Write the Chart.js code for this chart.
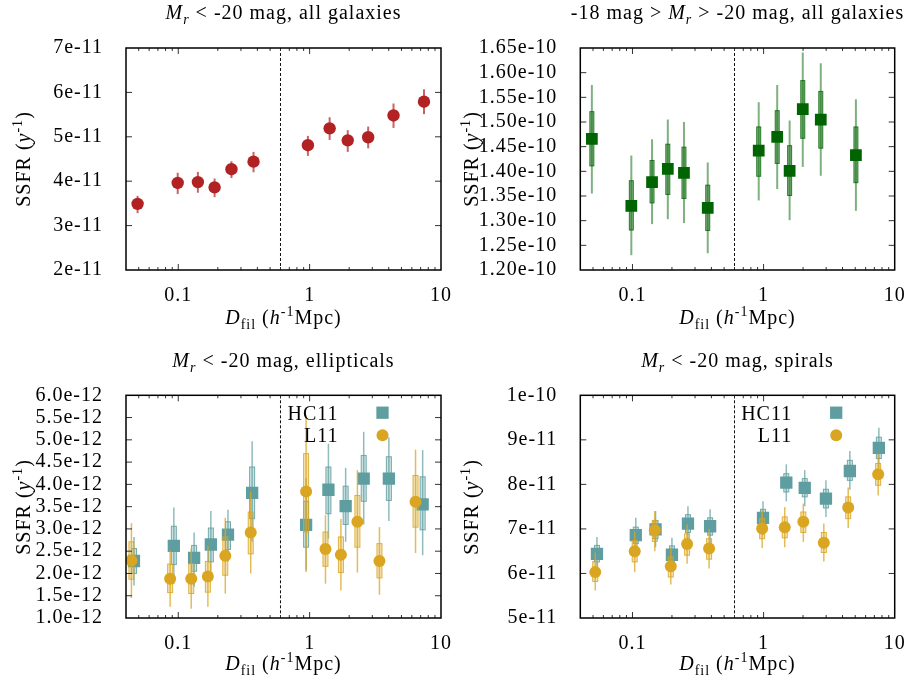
<!DOCTYPE html>
<html>
<head>
<meta charset="utf-8">
<script src="https://cdn.jsdelivr.net/npm/chart.js@4.4.1/dist/chart.umd.min.js"></script>
<style>
body { margin: 0; background: #fff; }
#wrap { position: relative; width: 914px; height: 684px; font-family: "Liberation Serif", serif; overflow: hidden; }
#wrap canvas { position: absolute; }
.lbl { position: absolute; white-space: nowrap; font-size: 20px; line-height: 20px; letter-spacing: 1px; color: #000; }
.ttl, .xl { transform: translateX(-50%); }
.yl { transform: translate(-50%, -50%) rotate(-90deg); }
.sb { font-size: 14px; position: relative; top: 5px; }
.sp { font-size: 14px; position: relative; top: -8px; }
</style>
</head>
<body>
<div id="wrap">
  <canvas id="c1" width="457" height="342" style="left:0;top:0"></canvas>
  <canvas id="c2" width="457" height="342" style="left:457px;top:0"></canvas>
  <canvas id="c3" width="457" height="342" style="left:0;top:342px"></canvas>
  <canvas id="c4" width="457" height="342" style="left:457px;top:342px"></canvas>

  <div class="lbl ttl" style="left:283.5px;top:2.3px"><i>M<span class="sb">r</span></i> &lt; -20 mag, all galaxies</div>
  <div class="lbl ttl" style="left:737.5px;top:2.3px">-18 mag &gt; <i>M<span class="sb">r</span></i> &gt; -20 mag, all galaxies</div>
  <div class="lbl ttl" style="left:283.5px;top:350.3px"><i>M<span class="sb">r</span></i> &lt; -20 mag, ellipticals</div>
  <div class="lbl ttl" style="left:737.5px;top:350.3px"><i>M<span class="sb">r</span></i> &lt; -20 mag, spirals</div>

  <div class="lbl xl" style="left:283.5px;top:306.8px"><i>D</i><span class="sb">fil</span> (<i>h</i><span class="sp">-1</span>Mpc)</div>
  <div class="lbl xl" style="left:737.5px;top:306.8px"><i>D</i><span class="sb">fil</span> (<i>h</i><span class="sp">-1</span>Mpc)</div>
  <div class="lbl xl" style="left:283.5px;top:653.3px"><i>D</i><span class="sb">fil</span> (<i>h</i><span class="sp">-1</span>Mpc)</div>
  <div class="lbl xl" style="left:737.5px;top:653.3px"><i>D</i><span class="sb">fil</span> (<i>h</i><span class="sp">-1</span>Mpc)</div>

  <div class="lbl yl" style="left:24px;top:159px">SSFR (<i>y</i><span class="sp">-1</span>)</div>
  <div class="lbl yl" style="left:472px;top:159px">SSFR (<i>y</i><span class="sp">-1</span>)</div>
  <div class="lbl yl" style="left:24px;top:506.7px">SSFR (<i>y</i><span class="sp">-1</span>)</div>
  <div class="lbl yl" style="left:472px;top:506.7px">SSFR (<i>y</i><span class="sp">-1</span>)</div>
</div>
<script>
// x axis (shared by all panels)
const X_MIN = 0.04, X_MAX = 10;
const X_TICK_VALUES = [0.1, 1, 10];
const X_TICK_LABELS = ['0.1', '1', '10'];
const DASH_X = 0.6;

// panel 1: Mr < -20, all galaxies (units of 1e-11)
const UNIT_1 = 1e-11;
const X_1 = [0.049, 0.099, 0.141, 0.189, 0.254, 0.374, 0.97, 1.42, 1.95, 2.79, 4.35, 7.42];
const Y_1 = [3.49, 3.96, 3.98, 3.86, 4.27, 4.44, 4.81, 5.19, 4.92, 4.99, 5.48, 5.79];
const LO_1 = [3.28, 3.71, 3.74, 3.64, 4.07, 4.20, 4.57, 4.93, 4.66, 4.74, 5.20, 5.51];
const HI_1 = [3.67, 4.19, 4.21, 4.06, 4.45, 4.66, 5.02, 5.44, 5.15, 5.23, 5.75, 6.07];
const Y_TICKS_1 = [2, 3, 4, 5, 6, 7];
const Y_LABELS_1 = ['2e-11', '3e-11', '4e-11', '5e-11', '6e-11', '7e-11'];

// panel 2: -18 > Mr > -20, all galaxies (units of 1e-10)
const UNIT_2 = 1e-10;
const X_2 = [0.049, 0.098, 0.141, 0.186, 0.247, 0.375, 0.918, 1.27, 1.58, 1.99, 2.73, 5.06];
const Y_2 = [1.466, 1.330, 1.378, 1.405, 1.397, 1.326, 1.442, 1.470, 1.401, 1.526, 1.505, 1.433];
const IN_LO_2 = [1.411, 1.281, 1.336, 1.353, 1.345, 1.280, 1.390, 1.416, 1.351, 1.467, 1.447, 1.377];
const IN_HI_2 = [1.521, 1.381, 1.422, 1.455, 1.449, 1.372, 1.490, 1.523, 1.452, 1.584, 1.562, 1.490];
const OUT_LO_2 = [1.355, 1.230, 1.293, 1.303, 1.295, 1.234, 1.341, 1.364, 1.301, 1.409, 1.391, 1.320];
const OUT_HI_2 = [1.575, 1.432, 1.465, 1.505, 1.500, 1.418, 1.540, 1.575, 1.503, 1.641, 1.619, 1.546];
const Y_TICKS_2 = [1.20, 1.25, 1.30, 1.35, 1.40, 1.45, 1.50, 1.55, 1.60, 1.65];
const Y_LABELS_2 = ['1.20e-10', '1.25e-10', '1.30e-10', '1.35e-10', '1.40e-10',
                    '1.45e-10', '1.50e-10', '1.55e-10', '1.60e-10', '1.65e-10'];

// panel 3: Mr < -20, ellipticals (units of 1e-12)
const UNIT_3 = 1e-12;
const HC_X_3 = [0.046, 0.0925, 0.132, 0.177, 0.239, 0.365, 0.94, 1.39, 1.88, 2.58, 4.01, 7.25];
const HC_Y_3 = [2.28, 2.62, 2.35, 2.65, 2.87, 3.81, 3.09, 3.88, 3.51, 4.13, 4.13, 3.55];
const HC_IN_LO_3 = [2.00, 2.20, 2.05, 2.26, 2.54, 3.23, 2.59, 3.34, 3.10, 3.62, 3.64, 2.98];
const HC_IN_HI_3 = [2.56, 3.06, 2.63, 3.02, 3.16, 4.39, 3.62, 4.39, 3.96, 4.65, 4.62, 4.17];
const HC_OUT_LO_3 = [1.73, 1.77, 1.70, 1.87, 2.27, 2.71, 2.07, 2.78, 2.71, 3.10, 3.18, 2.41];
const HC_OUT_HI_3 = [2.82, 3.48, 2.92, 3.40, 3.43, 4.97, 4.14, 4.91, 4.37, 5.18, 5.06, 4.77];
const L_X_3 = [0.044, 0.0867, 0.1255, 0.168, 0.228, 0.356, 0.94, 1.32, 1.73, 2.31, 3.40, 6.40];
const L_Y_3 = [2.29, 1.88, 1.88, 1.93, 2.40, 2.92, 3.84, 2.55, 2.42, 3.16, 2.28, 3.61];
const L_IN_LO_3 = [1.87, 1.57, 1.55, 1.58, 1.96, 2.44, 2.93, 2.16, 2.02, 2.59, 1.90, 3.04];
const L_IN_HI_3 = [2.71, 2.21, 2.22, 2.27, 2.82, 3.38, 4.69, 2.93, 2.82, 3.75, 2.67, 4.20];
const L_OUT_LO_3 = [1.45, 1.25, 1.21, 1.25, 1.55, 2.00, 2.03, 1.77, 1.62, 2.02, 1.52, 2.46];
const L_OUT_HI_3 = [3.13, 2.52, 2.56, 2.62, 3.25, 3.83, 5.55, 3.31, 3.22, 4.32, 3.04, 4.78];
const Y_TICKS_3 = [1.0, 1.5, 2.0, 2.5, 3.0, 3.5, 4.0, 4.5, 5.0, 5.5, 6.0];
const Y_LABELS_3 = ['1.0e-12', '1.5e-12', '2.0e-12', '2.5e-12', '3.0e-12', '3.5e-12',
                    '4.0e-12', '4.5e-12', '5.0e-12', '5.5e-12', '6.0e-12'];

// panel 4: Mr < -20, spirals (units of 1e-11)
const UNIT_4 = 1e-11;
const HC_X_4 = [0.0536, 0.106, 0.150, 0.200, 0.265, 0.391, 0.99, 1.49, 2.06, 2.99, 4.55, 7.57];
const HC_Y_4 = [6.44, 6.86, 6.99, 6.42, 7.12, 7.06, 7.25, 8.04, 7.92, 7.68, 8.30, 8.82];
const HC_IN_LO_4 = [6.26, 6.67, 6.78, 6.24, 6.92, 6.86, 7.04, 7.83, 7.72, 7.47, 8.09, 8.58];
const HC_IN_HI_4 = [6.63, 7.04, 7.19, 6.62, 7.32, 7.25, 7.44, 8.24, 8.13, 7.89, 8.54, 9.06];
const HC_OUT_LO_4 = [6.07, 6.44, 6.59, 6.03, 6.71, 6.67, 6.86, 7.62, 7.51, 7.27, 7.88, 8.37];
const HC_OUT_HI_4 = [6.82, 7.25, 7.40, 6.80, 7.51, 7.44, 7.62, 8.45, 8.32, 8.09, 8.75, 9.27];
const L_X_4 = [0.052, 0.104, 0.148, 0.196, 0.261, 0.384, 0.975, 1.45, 2.01, 2.88, 4.42, 7.48];
const L_Y_4 = [6.03, 6.50, 6.97, 6.16, 6.66, 6.56, 7.01, 7.04, 7.16, 6.69, 7.48, 8.23];
const L_IN_LO_4 = [5.82, 6.26, 6.72, 5.92, 6.41, 6.32, 6.78, 6.80, 6.92, 6.47, 7.23, 7.98];
const L_IN_HI_4 = [6.27, 6.74, 7.19, 6.37, 6.89, 6.78, 7.23, 7.27, 7.38, 6.92, 7.72, 8.47];
const L_OUT_LO_4 = [5.62, 6.03, 6.50, 5.75, 6.22, 6.11, 6.57, 6.59, 6.71, 6.27, 7.02, 7.75];
const L_OUT_HI_4 = [6.47, 6.95, 7.40, 6.58, 7.10, 7.00, 7.42, 7.49, 7.57, 7.12, 7.93, 8.69];
const Y_TICKS_4 = [5, 6, 7, 8, 9, 10];
const Y_LABELS_4 = ['5e-11', '6e-11', '7e-11', '8e-11', '9e-11', '1e-10'];

const RED = [178, 34, 34], GREEN = [0, 100, 0], TEAL = [95, 158, 160], GOLD = [218, 165, 32];
const rgba = (c, a) => `rgba(${c[0]},${c[1]},${c[2]},${a})`;

Chart.defaults.font.family = '"Liberation Serif", serif';
Chart.defaults.font.size = 20;
Chart.defaults.color = '#000';

// all 1..9 x 10^n positions for the log axis tick marks
const X_MARKS = [];
[0.01, 0.1, 1].forEach(d => {
    for (let k = 1; k <= 9; k++) {
        const v = k * d;
        if (v >= X_MIN - 1e-9 && v <= X_MAX) X_MARKS.push(v);
    }
});
X_MARKS.push(10);

const xLabelFor = v => {
    const i = X_TICK_VALUES.findIndex(t => Math.abs(t - v) / t < 1e-6);
    return i >= 0 ? X_TICK_LABELS[i] : '';
};

const decoPlugin = {
    id: 'deco',
    beforeInit(chart) { chart.ctx.letterSpacing = '1px'; },
    beforeDraw(chart) { chart.ctx.letterSpacing = '1px'; },
    beforeDatasetsDraw(chart) {
        const { ctx, chartArea: a, scales: { x } } = chart;
        const px = x.getPixelForValue(DASH_X);
        ctx.save();
        ctx.strokeStyle = '#111';
        ctx.lineWidth = 1;
        ctx.setLineDash([3, 2]);
        ctx.beginPath();
        ctx.moveTo(px, a.top);
        ctx.lineTo(px, a.bottom);
        ctx.stroke();
        ctx.restore();
    },
    beforeDatasetDraw(chart, args) {
        const ds = chart.data.datasets[args.index];
        const e = ds.err;
        if (!e) return;
        const { ctx, scales: { x, y } } = chart;
        ctx.save();
        ds.data.forEach((p, i) => {
            const px = x.getPixelForValue(p.x);
            ctx.strokeStyle = e.lineColor;
            ctx.lineWidth = e.lineWidth;
            ctx.beginPath();
            ctx.moveTo(px, y.getPixelForValue(e.outLo[i]));
            ctx.lineTo(px, y.getPixelForValue(e.outHi[i]));
            ctx.stroke();
            if (e.inLo) {
                const y1 = y.getPixelForValue(e.inHi[i]);
                const y2 = y.getPixelForValue(e.inLo[i]);
                const w = e.boxWidth;
                ctx.fillStyle = e.boxFill;
                ctx.fillRect(px - w / 2, y1, w, y2 - y1);
                ctx.strokeStyle = e.boxStroke;
                ctx.lineWidth = 1;
                ctx.strokeRect(px - w / 2, y1, w, y2 - y1);
            }
        });
        ctx.restore();
    },
    afterDraw(chart) {
        const { ctx, chartArea: a, scales: { x, y } } = chart;
        ctx.save();
        ctx.strokeStyle = '#333';
        ctx.lineWidth = 1;
        ctx.beginPath();
        x.ticks.forEach(t => {
            const px = x.getPixelForValue(t.value);
            if (px <= a.left + 1 || px >= a.right - 1) return;
            const len = t.label ? 6 : 3;
            ctx.moveTo(px, a.bottom); ctx.lineTo(px, a.bottom - len);
            ctx.moveTo(px, a.top); ctx.lineTo(px, a.top + len);
        });
        y.ticks.forEach(t => {
            const py = y.getPixelForValue(t.value);
            if (py <= a.top + 1 || py >= a.bottom - 1) return;
            ctx.moveTo(a.left, py); ctx.lineTo(a.left + 6, py);
            ctx.moveTo(a.right, py); ctx.lineTo(a.right - 6, py);
        });
        ctx.stroke();
        ctx.strokeStyle = '#000';
        ctx.lineWidth = 1.5;
        ctx.strokeRect(a.left, a.top, a.right - a.left, a.bottom - a.top);

        // key: text right-aligned, marker to its right
        const keyed = chart.data.datasets.filter(d => d.keyText);
        keyed.forEach((d, row) => {
            const cy = a.top + 17.4 + row * 22.6;
            const mx = a.right - 58.5;
            ctx.fillStyle = '#000';
            ctx.font = '20px "Liberation Serif", serif';
            ctx.textAlign = 'right';
            ctx.textBaseline = 'alphabetic';
            ctx.fillText(d.keyText, a.right - 102.5, cy + 6.8);
            ctx.fillStyle = d.pointBackgroundColor;
            ctx.beginPath();
            if (d.pointStyle === 'rect') {
                const s = d.pointRadius * Math.SQRT1_2;
                ctx.rect(mx - s, cy - s, 2 * s, 2 * s);
            } else {
                ctx.arc(mx, cy, d.pointRadius, 0, Math.PI * 2);
            }
            ctx.fill();
        });
        ctx.restore();
    }
};

function points(xs, ys, unit) {
    return xs.map((v, i) => ({ x: v, y: ys[i] * unit }));
}
const scaled = (arr, unit) => arr.map(v => v * unit);

function makePanel(id, p) {
    return new Chart(document.getElementById(id), {
        type: 'scatter',
        data: { datasets: p.datasets },
        options: {
            responsive: false,
            animation: false,
            devicePixelRatio: 1,
            layout: { padding: { left: 0, right: p.padRight, top: p.padTop, bottom: 0 } },
            plugins: { legend: { display: false }, tooltip: { enabled: false } },
            scales: {
                x: {
                    type: 'logarithmic',
                    min: X_MIN,
                    max: X_MAX,
                    grid: { display: false },
                    border: { display: false },
                    afterBuildTicks: s => { s.ticks = X_MARKS.map(v => ({ value: v })); },
                    afterFit: s => { s.height = p.bottomSpace; },
                    ticks: { autoSkip: false, maxRotation: 0, padding: 6, callback: v => xLabelFor(v) }
                },
                y: {
                    min: p.yTicks[0] * p.unit,
                    max: p.yTicks[p.yTicks.length - 1] * p.unit,
                    grid: { display: false },
                    border: { display: false },
                    afterBuildTicks: s => { s.ticks = p.yTicks.map(v => ({ value: v * p.unit })); },
                    afterFit: s => { s.width = p.leftSpace; },
                    ticks: { autoSkip: false, padding: 15, callback: (v, i) => p.yLabels[i] }
                }
            }
        },
        plugins: [decoPlugin]
    });
}

// panel 1
makePanel('c1', {
    unit: UNIT_1, yTicks: Y_TICKS_1, yLabels: Y_LABELS_1,
    leftSpace: 126, padRight: 16, padTop: 48, bottomSpace: 72,
    datasets: [{
        data: points(X_1, Y_1, UNIT_1),
        pointStyle: 'circle', pointRadius: 6.2, pointBorderWidth: 0,
        pointBackgroundColor: rgba(RED, 1),
        err: { outLo: scaled(LO_1, UNIT_1), outHi: scaled(HI_1, UNIT_1),
               lineColor: rgba(RED, 0.7), lineWidth: 2 }
    }]
});

// panel 2
makePanel('c2', {
    unit: UNIT_2, yTicks: Y_TICKS_2, yLabels: Y_LABELS_2,
    leftSpace: 123.3, padRight: 19.3, padTop: 48, bottomSpace: 72,
    datasets: [{
        data: points(X_2, Y_2, UNIT_2),
        pointStyle: 'rect', pointRadius: 8.3, pointBorderWidth: 0,
        pointBackgroundColor: rgba(GREEN, 1),
        err: { outLo: scaled(OUT_LO_2, UNIT_2), outHi: scaled(OUT_HI_2, UNIT_2),
               inLo: scaled(IN_LO_2, UNIT_2), inHi: scaled(IN_HI_2, UNIT_2),
               lineColor: rgba(GREEN, 0.5), lineWidth: 2,
               boxWidth: 4, boxFill: rgba(GREEN, 0.45), boxStroke: rgba(GREEN, 0.8) }
    }]
});

// panel 3
makePanel('c3', {
    unit: UNIT_3, yTicks: Y_TICKS_3, yLabels: Y_LABELS_3,
    leftSpace: 126, padRight: 16, padTop: 53.3, bottomSpace: 66,
    datasets: [{
        keyText: 'HC11', order: 1,
        data: points(HC_X_3, HC_Y_3, UNIT_3),
        pointStyle: 'rect', pointRadius: 8.7, pointBorderWidth: 0,
        pointBackgroundColor: rgba(TEAL, 1),
        err: { outLo: scaled(HC_OUT_LO_3, UNIT_3), outHi: scaled(HC_OUT_HI_3, UNIT_3),
               inLo: scaled(HC_IN_LO_3, UNIT_3), inHi: scaled(HC_IN_HI_3, UNIT_3),
               lineColor: rgba(TEAL, 0.7), lineWidth: 1.5,
               boxWidth: 5, boxFill: rgba(TEAL, 0.3), boxStroke: rgba(TEAL, 0.85) }
    }, {
        keyText: 'L11', order: 0,
        data: points(L_X_3, L_Y_3, UNIT_3),
        pointStyle: 'circle', pointRadius: 6, pointBorderWidth: 0,
        pointBackgroundColor: rgba(GOLD, 1),
        err: { outLo: scaled(L_OUT_LO_3, UNIT_3), outHi: scaled(L_OUT_HI_3, UNIT_3),
               inLo: scaled(L_IN_LO_3, UNIT_3), inHi: scaled(L_IN_HI_3, UNIT_3),
               lineColor: rgba(GOLD, 0.75), lineWidth: 1.5,
               boxWidth: 5, boxFill: rgba(GOLD, 0.3), boxStroke: rgba(GOLD, 0.85) }
    }]
});

// panel 4
makePanel('c4', {
    unit: UNIT_4, yTicks: Y_TICKS_4, yLabels: Y_LABELS_4,
    leftSpace: 123.3, padRight: 19.3, padTop: 53.3, bottomSpace: 66,
    datasets: [{
        keyText: 'HC11', order: 1,
        data: points(HC_X_4, HC_Y_4, UNIT_4),
        pointStyle: 'rect', pointRadius: 8.7, pointBorderWidth: 0,
        pointBackgroundColor: rgba(TEAL, 1),
        err: { outLo: scaled(HC_OUT_LO_4, UNIT_4), outHi: scaled(HC_OUT_HI_4, UNIT_4),
               inLo: scaled(HC_IN_LO_4, UNIT_4), inHi: scaled(HC_IN_HI_4, UNIT_4),
               lineColor: rgba(TEAL, 0.7), lineWidth: 1.5,
               boxWidth: 5, boxFill: rgba(TEAL, 0.3), boxStroke: rgba(TEAL, 0.85) }
    }, {
        keyText: 'L11', order: 0,
        data: points(L_X_4, L_Y_4, UNIT_4),
        pointStyle: 'circle', pointRadius: 6, pointBorderWidth: 0,
        pointBackgroundColor: rgba(GOLD, 1),
        err: { outLo: scaled(L_OUT_LO_4, UNIT_4), outHi: scaled(L_OUT_HI_4, UNIT_4),
               inLo: scaled(L_IN_LO_4, UNIT_4), inHi: scaled(L_IN_HI_4, UNIT_4),
               lineColor: rgba(GOLD, 0.75), lineWidth: 1.5,
               boxWidth: 5, boxFill: rgba(GOLD, 0.3), boxStroke: rgba(GOLD, 0.85) }
    }]
});
</script>
</body>
</html>
